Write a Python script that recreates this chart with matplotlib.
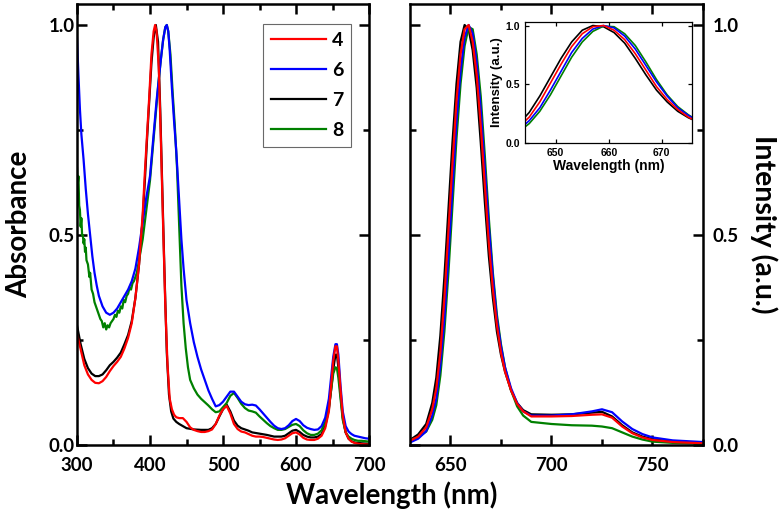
import matplotlib
matplotlib.use('Agg')
import matplotlib.pyplot as plt
from matplotlib.ticker import MultipleLocator

plt.rcParams['font.family'] = ['Lato', 'DejaVu Sans']
plt.rcParams['font.weight'] = 'bold'

# ── Absorbance spectra (left panel) ──────────────────────────────────────────
abs_wl_4 = [300, 305, 310, 315, 320, 325, 330, 335, 340, 345, 350, 355, 360, 365, 370,
            375, 380, 385, 390, 393, 396, 399, 402, 405, 407, 409, 412, 415, 418, 421,
            424, 427, 430, 433, 436, 440, 445, 450, 455, 460, 465, 470, 475, 480, 485,
            490, 495, 500, 505, 510, 515, 520, 525, 530, 535, 540, 545, 550, 555, 560,
            565, 570, 575, 580, 585, 590, 595, 600, 605, 610, 615, 620, 625, 630, 635,
            640, 645, 648, 651, 654, 656, 658, 661, 664, 668, 672, 676, 680, 685, 690,
            700]
abs_4 = [0.265, 0.228, 0.19, 0.168, 0.155, 0.148, 0.147, 0.152, 0.162, 0.176, 0.188,
         0.198, 0.21, 0.23, 0.255, 0.29, 0.35, 0.43, 0.55, 0.65, 0.74, 0.83, 0.93, 0.985,
         1.0, 0.985, 0.90, 0.72, 0.52, 0.33, 0.19, 0.11, 0.085, 0.072, 0.066, 0.064, 0.064,
         0.055, 0.042, 0.036, 0.033, 0.031, 0.031, 0.033, 0.037, 0.05, 0.07, 0.085, 0.093,
         0.075, 0.05, 0.038, 0.032, 0.03, 0.026, 0.022, 0.02, 0.02, 0.019, 0.017, 0.015,
         0.013, 0.012, 0.013, 0.016, 0.022, 0.028, 0.03, 0.025, 0.017, 0.013, 0.012, 0.012,
         0.015, 0.022, 0.04, 0.08, 0.14, 0.20, 0.235, 0.235, 0.20, 0.13, 0.07, 0.03, 0.015,
         0.008, 0.005, 0.003, 0.002, 0.001]

abs_wl_6 = [300, 302, 304, 306, 309, 312, 315, 318, 321, 324, 327, 330, 335, 340, 345,
            350, 355, 360, 365, 370, 375, 380, 385, 390, 395, 400, 403, 406, 409, 412,
            415, 418, 421, 423, 425, 427, 430, 433, 436, 440, 443, 446, 450, 455, 460,
            465, 470, 475, 480, 485, 490, 495, 500, 505, 510, 515, 520, 525, 530, 535,
            540, 545, 550, 555, 560, 565, 570, 575, 580, 585, 590, 595, 600, 605, 610,
            615, 620, 625, 630, 635, 640, 645, 648, 651, 654, 656, 658, 661, 664, 668,
            672, 676, 680, 685, 690, 695, 700]
abs_6 = [0.97, 0.88, 0.80, 0.74, 0.68, 0.61, 0.55, 0.50, 0.45, 0.41, 0.38, 0.355, 0.33,
         0.315, 0.31, 0.315, 0.325, 0.34, 0.355, 0.37, 0.39, 0.42, 0.47, 0.53, 0.59, 0.64,
         0.70, 0.76, 0.82, 0.87, 0.92, 0.965, 0.995, 1.0, 0.985, 0.94, 0.85, 0.77, 0.70,
         0.58, 0.49, 0.42, 0.345, 0.29, 0.245, 0.21, 0.18, 0.155, 0.13, 0.11, 0.092, 0.095,
         0.103, 0.115, 0.127, 0.127, 0.115, 0.103, 0.097, 0.095, 0.096, 0.094, 0.085,
         0.075, 0.065, 0.055, 0.046, 0.04, 0.038, 0.04, 0.047, 0.057, 0.062, 0.057, 0.047,
         0.041, 0.038, 0.036, 0.037, 0.045, 0.065, 0.11, 0.16, 0.21, 0.24, 0.24, 0.215,
         0.14, 0.08, 0.045, 0.032, 0.026, 0.022, 0.02, 0.018, 0.016, 0.015]

abs_wl_7 = [300, 305, 310, 315, 320, 325, 330, 335, 340, 345, 350, 355, 360, 365, 370,
            375, 380, 385, 390, 393, 396, 399, 402, 405, 408, 411, 414, 417, 420, 423,
            426, 429, 432, 436, 440, 445, 450, 460, 470, 480, 485, 490, 495, 500, 505,
            510, 515, 520, 525, 530, 535, 540, 550, 560, 570, 580, 585, 590, 595, 600,
            605, 610, 615, 620, 625, 630, 635, 640, 645, 648, 651, 654, 656, 658, 661,
            664, 668, 672, 676, 680, 690, 700]
abs_7 = [0.285, 0.24, 0.205, 0.183, 0.170, 0.164, 0.164, 0.168, 0.178, 0.19, 0.198,
         0.208, 0.22, 0.24, 0.262, 0.295, 0.35, 0.43, 0.54, 0.63, 0.73, 0.82, 0.91, 0.97,
         1.0, 0.96, 0.80, 0.60, 0.40, 0.22, 0.12, 0.08, 0.063, 0.055, 0.05, 0.045, 0.04,
         0.037, 0.036, 0.036, 0.04, 0.05, 0.068, 0.085, 0.096, 0.08, 0.058, 0.046, 0.04,
         0.037, 0.034, 0.03, 0.027, 0.024, 0.02, 0.02, 0.022, 0.028, 0.034, 0.036, 0.031,
         0.024, 0.02, 0.018, 0.018, 0.02, 0.026, 0.045, 0.085, 0.13, 0.18, 0.215, 0.215,
         0.185, 0.12, 0.065, 0.03, 0.015, 0.009, 0.006, 0.004, 0.003]

# 8 is noisy below 400 nm; values read point by point
abs_wl_8 = [300, 301, 302, 303, 304, 305, 306, 307, 308, 309, 310, 311, 312, 313, 315,
            317, 318, 320, 322, 324, 326, 328, 330, 332, 334, 336, 338, 340, 342, 344,
            346, 348, 350, 352, 354, 356, 358, 360, 362, 364, 366, 368, 370, 372, 374,
            376, 378, 380, 382, 385, 388, 390, 395, 400, 403, 406, 409, 412,
            415, 418, 421, 423, 425, 428, 431, 434, 437, 440, 443, 446, 449, 452, 455,
            460, 465, 470, 475, 480, 485, 490, 495, 500, 505, 510, 515, 520, 525, 530,
            535, 540, 545, 550, 555, 560, 565, 570, 575, 580, 585, 590, 595, 600, 605,
            610, 615, 620, 625, 630, 635, 640, 645, 648, 651, 654, 656, 658, 661, 664,
            668, 672, 676, 680, 685, 690, 695, 700]
abs_8 = [0.66, 0.62, 0.64, 0.57, 0.56, 0.52, 0.54, 0.50, 0.50, 0.48, 0.49, 0.46, 0.47,
         0.44, 0.43, 0.40, 0.41, 0.37, 0.36, 0.34, 0.33, 0.32, 0.31, 0.30, 0.295, 0.28,
         0.29, 0.275, 0.285, 0.28, 0.29, 0.295, 0.30, 0.31, 0.305, 0.32, 0.315, 0.33,
         0.325, 0.345, 0.34, 0.355, 0.36, 0.375, 0.37, 0.385, 0.39, 0.40, 0.41, 0.44,
         0.47, 0.49, 0.56, 0.63,
         0.69, 0.75, 0.81, 0.87, 0.92, 0.965, 0.995, 1.0, 0.985, 0.93, 0.84, 0.76, 0.66,
         0.52, 0.38, 0.29, 0.23, 0.185, 0.155, 0.135, 0.12, 0.11, 0.102, 0.094, 0.085,
         0.078, 0.08, 0.09, 0.10, 0.117, 0.124, 0.112, 0.098, 0.088, 0.082, 0.08, 0.077,
         0.068, 0.06, 0.052, 0.045, 0.04, 0.036, 0.036, 0.038, 0.043, 0.048, 0.05, 0.045,
         0.035, 0.028, 0.024, 0.024, 0.027, 0.035, 0.055, 0.09, 0.13, 0.17, 0.185, 0.183,
         0.16, 0.11, 0.06, 0.03, 0.02, 0.015, 0.012, 0.01, 0.01, 0.009, 0.008]

# ── Emission spectra (right panel + inset) ───────────────────────────────────
em_wl = [630, 634, 638, 641, 643, 645, 647, 649, 651, 653, 655, 657, 659, 661, 663, 665,
         667, 669, 671, 673, 675, 677, 680, 683, 686, 690, 700, 710, 720, 725, 730, 735,
         740, 745, 750, 760, 775]
em_4 = [0.010, 0.02, 0.042, 0.085, 0.135, 0.22, 0.35, 0.51, 0.67, 0.82, 0.93, 0.99, 1.00,
        0.96, 0.88, 0.76, 0.62, 0.48, 0.37, 0.285, 0.22, 0.175, 0.13, 0.098, 0.08, 0.068,
        0.068, 0.069, 0.072, 0.073, 0.065, 0.044, 0.028, 0.018, 0.012, 0.007, 0.004]
em_6 = [0.006, 0.015, 0.033, 0.07, 0.11, 0.19, 0.30, 0.45, 0.61, 0.77, 0.89, 0.97, 1.00,
        0.98, 0.91, 0.80, 0.66, 0.52, 0.40, 0.30, 0.235, 0.185, 0.135, 0.10, 0.08, 0.07,
        0.07, 0.073, 0.08, 0.085, 0.078, 0.056, 0.038, 0.026, 0.018, 0.011, 0.007]
em_7 = [0.012, 0.025, 0.05, 0.10, 0.16, 0.26, 0.40, 0.56, 0.72, 0.86, 0.96, 1.00, 0.99,
        0.94, 0.85, 0.72, 0.58, 0.45, 0.35, 0.27, 0.215, 0.175, 0.13, 0.10, 0.083, 0.073,
        0.072, 0.073, 0.077, 0.079, 0.068, 0.047, 0.03, 0.02, 0.014, 0.008, 0.004]
em_8 = [0.012, 0.018, 0.032, 0.06, 0.095, 0.165, 0.27, 0.41, 0.57, 0.73, 0.86, 0.95,
        0.995, 0.99, 0.93, 0.83, 0.69, 0.54, 0.41, 0.31, 0.24, 0.185, 0.13, 0.092, 0.07,
        0.055, 0.05, 0.047, 0.046, 0.044, 0.04, 0.03, 0.02, 0.013, 0.008, 0.005, 0.003]

labels = ['4', '6', '7', '8']
colors = ['#ff0000', '#0000ff', '#000000', '#008000']

abs_series = [(abs_wl_4, abs_4), (abs_wl_6, abs_6), (abs_wl_7, abs_7), (abs_wl_8, abs_8)]
em_series = [em_4, em_6, em_7, em_8]
draw_order = [2, 3, 1, 0]   # red on top like the original

TICK_SIZE = 13.5
LABEL_SIZE = 20


def style_axis(ax, lw=1.8, major=7, minor=4, size=TICK_SIZE):
    for s in ax.spines.values():
        s.set_linewidth(lw)
    ax.tick_params(which='both', direction='in', top=True, right=True,
                   width=lw, labelsize=size)
    ax.tick_params(which='major', length=major)
    ax.tick_params(which='minor', length=minor)


fig = plt.figure(figsize=(7.84, 5.19), dpi=100)

# ── Left: absorbance ──────────────────────────────────────────────────────────
ax1 = fig.add_axes([0.0982, 0.1426, 0.3725, 0.8497])
handles = {}
for i in draw_order:
    wl, a = abs_series[i]
    handles[i], = ax1.plot(wl, a, color=colors[i], lw=1.6, label=labels[i])
ax1.set_xlim(300, 700)
ax1.set_ylim(0, 1.05)
ax1.xaxis.set_major_locator(MultipleLocator(100))
ax1.xaxis.set_minor_locator(MultipleLocator(50))
ax1.yaxis.set_major_locator(MultipleLocator(0.5))
ax1.yaxis.set_minor_locator(MultipleLocator(0.25))
style_axis(ax1)
ax1.tick_params(axis='x', pad=9)
ax1.tick_params(axis='y', pad=1.5)
ax1.set_ylabel('Absorbance', fontsize=LABEL_SIZE, fontweight='bold', labelpad=12)
leg = ax1.legend([handles[i] for i in range(4)], labels, loc='upper left',
                 bbox_to_anchor=(0.637, 0.955), borderaxespad=0, fancybox=False,
                 edgecolor='#444444', fontsize=14, handlelength=2.85,
                 labelspacing=0.68, borderpad=0.4, handletextpad=0.3)
leg.get_frame().set_linewidth(0.8)
for t in leg.get_texts():
    t.set_fontweight('bold')

# ── Right: emission ───────────────────────────────────────────────────────────
ax2 = fig.add_axes([0.523, 0.1426, 0.3737, 0.8497])
for i in draw_order:
    ax2.plot(em_wl, em_series[i], color=colors[i], lw=1.6)
ax2.set_xlim(630, 775)
ax2.set_ylim(0, 1.05)
ax2.xaxis.set_major_locator(MultipleLocator(50))
ax2.xaxis.set_minor_locator(MultipleLocator(25))
ax2.yaxis.set_major_locator(MultipleLocator(0.5))
ax2.yaxis.set_minor_locator(MultipleLocator(0.25))
style_axis(ax2)
ax2.tick_params(axis='x', pad=9)
ax2.tick_params(axis='y', labelleft=False, labelright=True, pad=7)
ax2.yaxis.set_label_position('right')
ax2.set_ylabel('Intensity (a.u.)', fontsize=LABEL_SIZE + 0.5, fontweight='bold',
               rotation=270, labelpad=28)

# ── Inset ─────────────────────────────────────────────────────────────────────
axi = fig.add_axes([0.6696, 0.7245, 0.2131, 0.2331])
for i in draw_order:
    axi.plot(em_wl, em_series[i], color=colors[i], lw=1.2)
axi.set_xlim(644.2, 675.7)
axi.set_ylim(0, 1.03)
axi.xaxis.set_major_locator(MultipleLocator(10))
axi.yaxis.set_major_locator(MultipleLocator(0.5))
style_axis(axi, lw=0.9, major=3, minor=2, size=7.5)
for lab in axi.get_xticklabels() + axi.get_yticklabels():
    lab.set_family(['Liberation Sans', 'DejaVu Sans'])
axi.set_xlabel('Wavelength (nm)', fontsize=10, fontweight='bold',
               family=['Liberation Sans'], labelpad=1)
axi.set_ylabel('Intensity (a.u.)', fontsize=9.5, fontweight='bold',
               family=['Liberation Sans'], labelpad=2)

fig.text(0.5, 0.046, 'Wavelength (nm)', ha='center', va='center',
         fontsize=LABEL_SIZE, fontweight='bold')

fig.savefig('out.png', dpi=100)
